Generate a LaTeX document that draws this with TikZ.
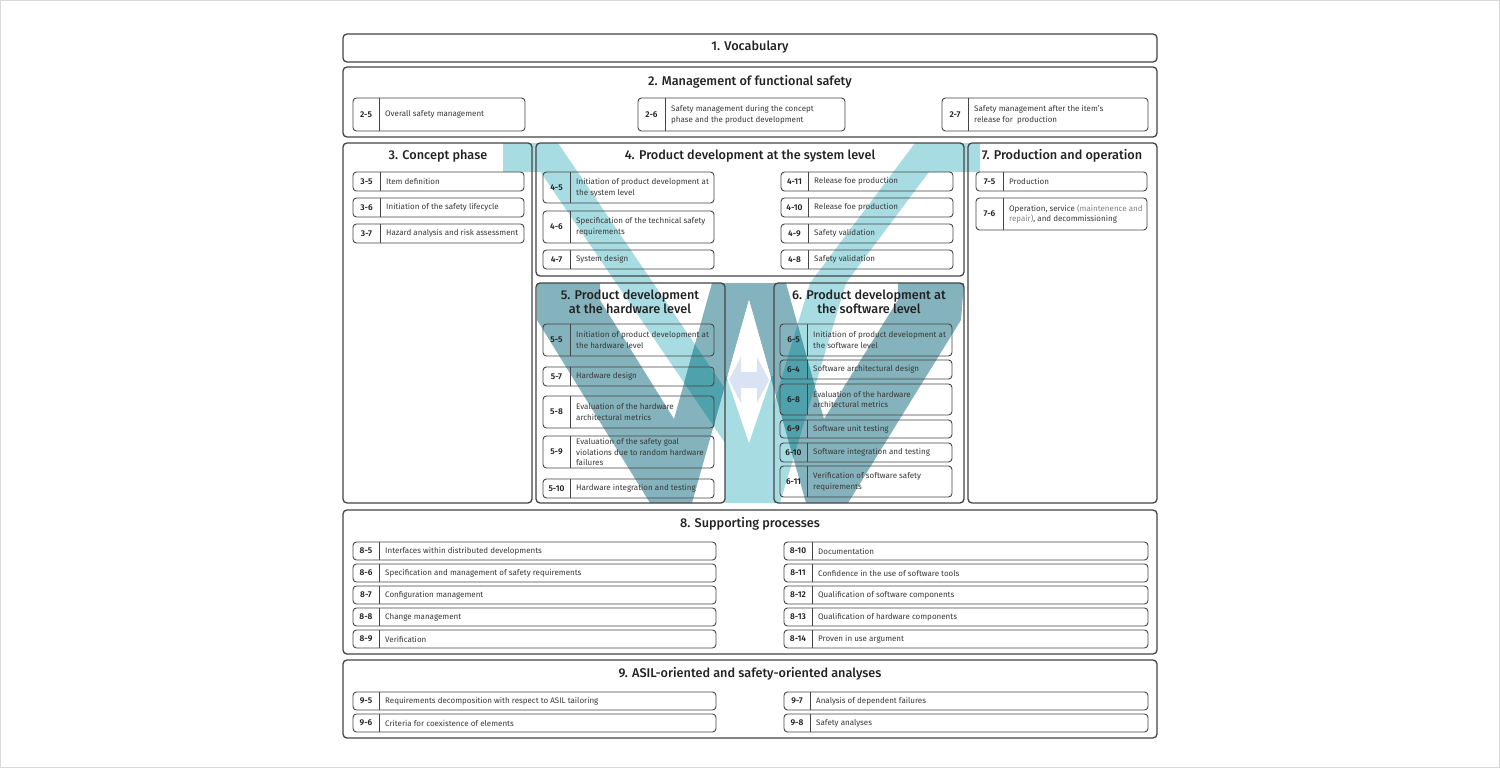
\documentclass[tikz,border=0pt]{standalone}
\usepackage{fontspec}
\setmainfont{Fira Sans}[BoldFont={Fira Sans SemiBold}]
\newfontfamily\titlefont{Fira Sans Medium}
\usetikzlibrary{calc}
\definecolor{frame}{HTML}{444444}
\definecolor{txt}{HTML}{222222}
\definecolor{lightV}{HTML}{A7DCE2}
\definecolor{darkV}{HTML}{85B3BD}
\definecolor{overV}{HTML}{4FA1AC}
\definecolor{arrowc}{HTML}{DAE3F3}
\tikzset{
  bigbox/.style={draw=frame, line width=1.3pt, rounded corners=4pt},
  itemline/.style={draw=frame, line width=0.9pt, rounded corners=3.5pt},
  divline/.style={draw=frame, line width=0.9pt},
  titletxt/.style={font=\fontsize{12.7}{14}\titlefont, text=txt, inner sep=0pt, align=center},
  numtxt/.style={font=\fontsize{8.4}{9}\selectfont\bfseries, text=txt, inner sep=0pt},
  itemtxt/.style={font=\fontsize{8}{10.6}\selectfont, text=txt!90, inner sep=0pt, align=left, anchor=west},
}
% name, x1, y1, x2, y2, divider x, label, text
\newcommand\itembox[8]{%
  \draw[itemline] (#2,#3) rectangle (#4,#5);
  \draw[divline] (#6,#3) -- (#6,#5);
  \node[numtxt] (#1n) at ({(#2+#6)/2},{(#3+#5)/2}) {#7};
  \node[itemtxt] (#1t) at ({#6+6},{(#3+#5)/2}) {#8};
}
\begin{document}
\begin{tikzpicture}[x=1pt,y=-1pt]
\useasboundingbox (0,0) rectangle (1500,768);
\draw[draw=black!15, line width=1pt] (0.5,0.5) rectangle (1499.5,767.5);

% ---------- V overlay ----------
\def\lightpath{(503,143) -- (558,143) -- (762,443) -- (810,283) -- (915,143) -- (980,143) -- (980,172) -- (929,172) -- (846,283) -- (780,503) -- (766,503) -- (540.5,172) -- (503,172) -- cycle}
\def\stempath{(725,376) rectangle (773,503)}
\def\darkpath{(537,283) -- (600,283) -- (600,300) -- (674,419) -- (712,283) -- (786,283) -- (824,419) -- (898,300) -- (898,283) -- (964,283) -- (961,320) -- (848,503) -- (806,503) -- (749,300) -- (692,503) -- (650,503) -- (537,320) -- cycle}
\fill[lightV] \lightpath;
\fill[lightV] \stempath;
\fill[darkV] \darkpath;
\begin{scope}
  \clip \darkpath;
  \fill[overV] \lightpath;
  \fill[overV] \stempath;
\end{scope}
\fill[white] (749,300) -- (771,378) -- (749,443) -- (727,378) -- cycle;
\fill[arrowc] (729,380) -- (741,357) -- (741,372) -- (757,372) -- (757,357) -- (769,380) -- (757,403) -- (757,388) -- (741,388) -- (741,403) -- cycle;

% ---------- big boxes ----------
\draw[bigbox] (343,34) rectangle (1157,62);
\node[titletxt] (t1) at (750,47) {1. Vocabulary};

\draw[bigbox] (343,67) rectangle (1157,137);
\node[titletxt] (t2) at (750,82) {2. Management of functional safety};
\itembox{i25}{353}{98}{525}{131}{379}{2-5}{Overall safety management}
\itembox{i26}{638}{98}{845}{131}{665}{2-6}{Safety management during the concept\\phase and the product development}
\itembox{i27}{942}{98}{1148}{131}{968}{2-7}{Safety management after the item's\\release for\ \ production}

\draw[bigbox] (343,143) rectangle (532,503);
\node[titletxt] (t3) at (438,156) {3. Concept phase};
\itembox{i35}{353}{172}{524}{191}{380}{3-5}{Item definition}
\itembox{i36}{353}{198}{524}{217}{380}{3-6}{Initiation of the safety lifecycle}
\itembox{i37}{353}{224}{524}{243}{380}{3-7}{Hazard analysis and risk assessment}

\draw[bigbox] (536,143) rectangle (964,276);
\node[titletxt] (t4) at (750,156) {4. Product development at the system level};
\itembox{i45}{543}{172}{714}{203}{570}{4-5}{Initiation of product development at\\the system level}
\itembox{i46}{543}{211}{714}{243}{570}{4-6}{Specification of the technical safety\\requirements}
\itembox{i47}{543}{250}{714}{269}{570}{4-7}{System design}
\itembox{i411}{781}{172}{953}{191}{808}{4-11}{Release foe production}
\itembox{i410}{781}{198}{953}{217}{808}{4-10}{Release foe production}
\itembox{i49}{781}{224}{953}{243}{808}{4-9}{Safety validation}
\itembox{i48}{781}{250}{953}{269}{808}{4-8}{Safety validation}

\draw[bigbox] (536,283) rectangle (725,503);
\node[titletxt] (t5) at (630,302) {5. Product development\\at the hardware level};
\itembox{i55}{543}{324}{714}{356}{570}{5-5}{Initiation of product development at\\the hardware level}
\itembox{i57}{543}{367}{714}{386}{570}{5-7}{Hardware design}
\itembox{i58}{543}{396}{714}{428}{570}{5-8}{Evaluation of the hardware\\architectural metrics}
\itembox{i59}{543}{436}{714}{468}{570}{5-9}{Evaluation of the safety goal\\violations due to random hardware\\failures}
\itembox{i510}{543}{479}{714}{498}{570}{5-10}{Hardware integration and testing}

\draw[bigbox] (774,283) rectangle (964,503);
\node[titletxt] (t6) at (869,302) {6. Product development at\\the software level};
\itembox{i65}{780}{324}{952}{356}{807}{6-5}{Initiation of product development at\\the software level}
\itembox{i64}{780}{360}{952}{379}{807}{6-4}{Software architectural design}
\itembox{i68}{780}{384}{952}{415}{807}{6-8}{Evaluation of the hardware\\architectural metrics}
\itembox{i69}{780}{420}{952}{438}{807}{6-9}{Software unit testing}
\itembox{i610}{780}{443}{952}{462}{807}{6-10}{Software integration and testing}
\itembox{i611}{780}{466}{952}{497}{807}{6-11}{Verification of software safety\\requirements}

\draw[bigbox] (968,143) rectangle (1157,503);
\node[titletxt] (t7) at (1062,156) {7. Production and operation};
\itembox{i75}{976}{172}{1147}{191}{1003}{7-5}{Production}
\itembox{i76}{976}{198}{1147}{230}{1003}{7-6}{Operation, service {\color{black!50}(maintenence and}\\{\color{black!50}repair)}, and decommissioning}

\draw[bigbox] (343,510) rectangle (1157,654);
\node[titletxt] (t8) at (750,524) {8. Supporting processes};
\itembox{i85}{353}{542}{716}{560}{379}{8-5}{Interfaces within distributed developments}
\itembox{i86}{353}{564}{716}{582}{379}{8-6}{Specification and management of safety requirements}
\itembox{i87}{353}{586}{716}{604}{379}{8-7}{Configuration management}
\itembox{i88}{353}{608}{716}{626}{379}{8-8}{Change management}
\itembox{i89}{353}{630}{716}{648}{379}{8-9}{Verification}
\itembox{i810}{784}{542}{1148}{560}{812}{8-10}{Documentation}
\itembox{i811}{784}{564}{1148}{582}{812}{8-11}{Confidence in the use of software tools}
\itembox{i812}{784}{586}{1148}{604}{812}{8-12}{Qualification of software components}
\itembox{i813}{784}{608}{1148}{626}{812}{8-13}{Qualification of hardware components}
\itembox{i814}{784}{630}{1148}{648}{812}{8-14}{Proven in use argument}

\draw[bigbox] (343,660) rectangle (1157,738);
\node[titletxt] (t9) at (750,674) {9. ASIL-oriented and safety-oriented analyses};
\itembox{i95}{353}{692}{716}{710}{379}{9-5}{Requirements decomposition with respect to ASIL tailoring}
\itembox{i96}{353}{714}{716}{732}{379}{9-6}{Criteria for coexistence of elements}
\itembox{i97}{784}{692}{1148}{710}{810}{9-7}{Analysis of dependent failures}
\itembox{i98}{784}{714}{1148}{732}{810}{9-8}{Safety analyses}
\end{tikzpicture}
\end{document}
